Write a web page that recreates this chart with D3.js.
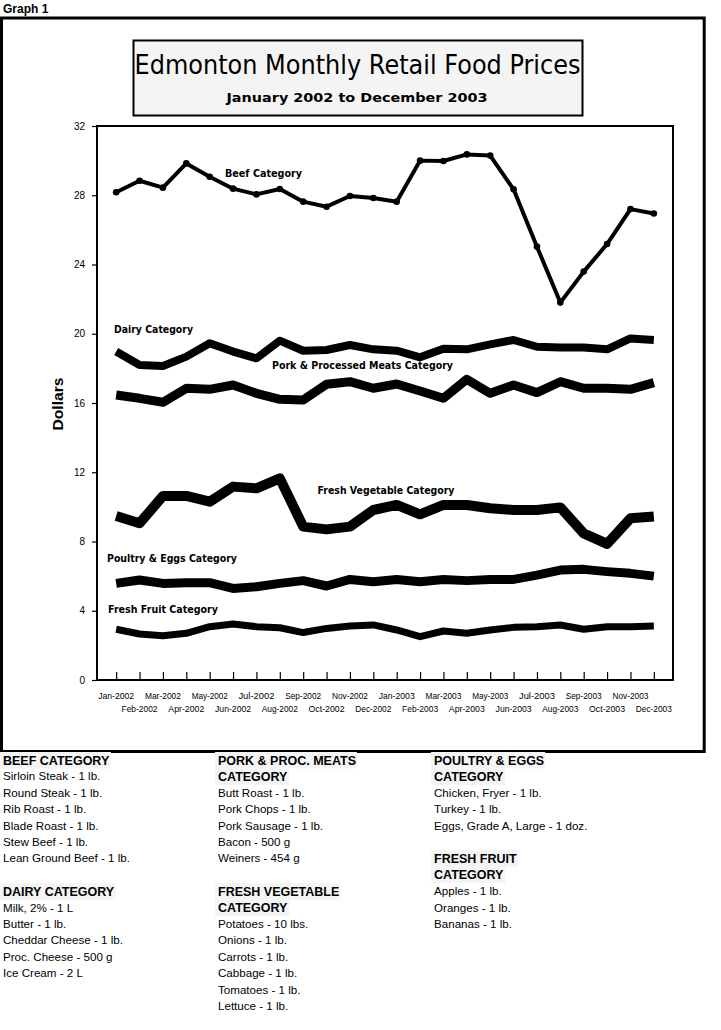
<!DOCTYPE html>
<html><head><meta charset="utf-8">
<script src="https://cdn.jsdelivr.net/npm/d3@7"></script>
<style>body{margin:0;background:#fff}svg{display:block}</style>
</head><body>
<script>
const months = ["Jan-2002","Feb-2002","Mar-2002","Apr-2002","May-2002","Jun-2002","Jul-2002","Aug-2002","Sep-2002","Oct-2002","Nov-2002","Dec-2002",
"Jan-2003","Feb-2003","Mar-2003","Apr-2003","May-2003","Jun-2003","Jul-2003","Aug-2003","Sep-2003","Oct-2003","Nov-2003","Dec-2003"];
const beef = [28.17,28.84,28.44,29.84,29.07,28.38,28.05,28.36,27.63,27.34,27.96,27.84,27.63,30.0,29.98,30.36,30.29,28.34,25.03,21.8,23.59,25.18,27.2,26.95];
const dairy = [18.97,18.2,18.14,18.68,19.45,18.97,18.58,19.6,19.02,19.06,19.35,19.1,19.02,18.64,19.14,19.1,19.39,19.64,19.25,19.2,19.2,19.1,19.73,19.64];
const pork = [16.46,16.27,16.04,16.85,16.79,17.04,16.56,16.21,16.17,17.08,17.23,16.85,17.1,16.69,16.27,17.37,16.56,17.04,16.6,17.23,16.85,16.85,16.79,17.18];
const vegetable = [9.47,9.05,10.63,10.63,10.3,11.17,11.07,11.65,8.86,8.7,8.86,9.82,10.11,9.57,10.11,10.11,9.92,9.82,9.82,9.97,8.47,7.86,9.34,9.44];
const poultry = [5.58,5.78,5.58,5.62,5.62,5.29,5.39,5.58,5.74,5.43,5.81,5.68,5.81,5.68,5.81,5.74,5.81,5.81,6.06,6.35,6.39,6.26,6.16,6.0];
const fruit = [2.93,2.66,2.56,2.7,3.08,3.23,3.08,3.02,2.74,2.98,3.12,3.18,2.89,2.5,2.83,2.7,2.89,3.04,3.08,3.18,2.93,3.08,3.08,3.12];
const yTicks = [0,4,8,12,16,20,24,28,32];
const seriesNames = ["Beef Category","Dairy Category","Pork & Processed Meats Category","Fresh Vegetable Category","Poultry & Eggs Category","Fresh Fruit Category"];
const titleText = "Edmonton Monthly Retail Food Prices";
const subtitleText = "January 2002 to December 2003";

const legendCol1 = [
  {head:["BEEF CATEGORY"], items:["Sirloin Steak - 1 lb.","Round Steak - 1 lb.","Rib Roast - 1 lb.","Blade Roast - 1 lb.","Stew Beef - 1 lb.","Lean Ground Beef - 1 lb."]},
  {head:["DAIRY CATEGORY"], items:["Milk, 2% - 1 L","Butter - 1 lb.","Cheddar Cheese - 1 lb.","Proc. Cheese - 500 g","Ice Cream - 2 L"]}
];
const legendCol2 = [
  {head:["PORK & PROC. MEATS","CATEGORY"], items:["Butt Roast - 1 lb.","Pork Chops - 1 lb.","Pork Sausage - 1 lb.","Bacon - 500 g","Weiners - 454 g"]},
  {head:["FRESH VEGETABLE","CATEGORY"], items:["Potatoes - 10 lbs.","Onions - 1 lb.","Carrots - 1 lb.","Cabbage - 1 lb.","Tomatoes - 1 lb.","Lettuce - 1 lb."]}
];
const legendCol3 = [
  {head:["POULTRY & EGGS","CATEGORY"], items:["Chicken, Fryer - 1 lb.","Turkey - 1 lb.","Eggs, Grade A, Large - 1 doz."]},
  {head:["FRESH FRUIT","CATEGORY"], items:["Apples - 1 lb.","Oranges - 1 lb.","Bananas - 1 lb."]}
];

(function(){
const W = 721, H = 1030;
const svg = d3.select("body").append("svg").attr("width", W).attr("height", H);
svg.append("rect").attr("width", W).attr("height", H).attr("fill", "#fff");

const SANS = "'Liberation Sans', Arial, sans-serif";
const NARROW = "'Liberation Sans Narrow', 'Liberation Sans', Arial, sans-serif";

svg.append("text").attr("x", 3).attr("y", 13).attr("font-family", SANS).attr("font-weight", "bold")
  .attr("font-size", 12).text("Graph 1");

svg.append("rect").attr("x", 1.5).attr("y", 18).attr("width", 702.7).attr("height", 733.5)
  .attr("fill", "none").attr("stroke", "#000").attr("stroke-width", 3);

svg.append("rect").attr("x", 133.5).attr("y", 40.5).attr("width", 449).attr("height", 75)
  .attr("fill", "#f4f4f4").attr("stroke", "#000").attr("stroke-width", 2);
svg.append("text").attr("x", 134.5).attr("y", 74).attr("font-family", "'DejaVu Sans', sans-serif")
  .attr("font-size", 26).attr("textLength", 446).attr("lengthAdjust", "spacingAndGlyphs").text(titleText);
svg.append("text").attr("x", 226.5).attr("y", 102).attr("font-family", "'DejaVu Sans', sans-serif")
  .attr("font-weight", "bold").attr("font-size", 13).attr("textLength", 261).attr("lengthAdjust", "spacingAndGlyphs").text(subtitleText);

const pLeft = 97, pRight = 673, pTop = 126, pBottom = 680;
const x = d3.scalePoint().domain(months).range([pLeft, pRight]).padding(0.82);
const y = d3.scaleLinear().domain([0, 32]).range([pBottom, pTop]);

svg.append("rect").attr("x", pLeft).attr("y", pTop).attr("width", pRight - pLeft).attr("height", pBottom - pTop)
  .attr("fill", "none").attr("stroke", "#000").attr("stroke-width", 2);

const yAxis = d3.axisLeft(y).tickValues(yTicks).tickSize(5).tickPadding(7).tickFormat(d3.format("d"));
const gy = svg.append("g").attr("transform", `translate(${pLeft},0)`).call(yAxis);
gy.select(".domain").remove();
gy.selectAll(".tick line").attr("stroke-width", 1.2);
gy.selectAll(".tick text").attr("font-family", NARROW).attr("font-size", 10).attr("fill", "#000");

const xAxis = d3.axisBottom(x).tickSize(-8).tickFormat("");
const gx = svg.append("g").attr("transform", `translate(0,${pBottom})`).call(xAxis);
gx.select(".domain").remove();
gx.selectAll(".tick line").attr("stroke-width", 1.2);
svg.append("g").selectAll("text").data(months).join("text")
  .attr("x", d => x(d)).attr("y", (d, i) => i % 2 === 0 ? 699 : 712)
  .attr("text-anchor", "middle").attr("font-family", SANS).attr("font-size", 8.5)
  .attr("textLength", 36).attr("lengthAdjust", "spacingAndGlyphs").text(d => d);

svg.append("text").attr("transform", "translate(63,404) rotate(-90)").attr("text-anchor", "middle")
  .attr("font-family", SANS).attr("font-weight", "bold").attr("font-size", 15)
  .attr("textLength", 53).attr("lengthAdjust", "spacingAndGlyphs").text("Dollars");

const line = d3.line().x((d, i) => x(months[i])).y(d => y(d));
const series = [
  {data: beef, w: 4},
  {data: dairy, w: 8},
  {data: pork, w: 9},
  {data: vegetable, w: 10},
  {data: poultry, w: 9},
  {data: fruit, w: 7}
];
svg.append("g").selectAll("path").data(series).join("path")
  .attr("d", d => line(d.data)).attr("fill", "none").attr("stroke", "#000")
  .attr("stroke-width", d => d.w).attr("stroke-linejoin", "round").attr("stroke-linecap", "butt");
svg.append("g").selectAll("circle").data(beef).join("circle")
  .attr("cx", (d, i) => x(months[i])).attr("cy", d => y(d)).attr("r", 3.3).attr("fill", "#000");

const labelPos = [
  {x: 225, y: 176.5, w: 77},
  {x: 114, y: 332.5, w: 79},
  {x: 272, y: 368.5, w: 181},
  {x: 317.5, y: 493.5, w: 137},
  {x: 107, y: 561.5, w: 130},
  {x: 108, y: 612.5, w: 110}
];
svg.append("g").selectAll("text").data(seriesNames).join("text")
  .attr("x", (d, i) => labelPos[i].x).attr("y", (d, i) => labelPos[i].y)
  .attr("font-family", "'DejaVu Sans', sans-serif").attr("font-weight", "bold").attr("font-size", 10)
  .attr("textLength", (d, i) => labelPos[i].w).attr("lengthAdjust", "spacingAndGlyphs").text(d => d);

function drawColumn(groups, x0, y0) {
  let yy = y0;
  const g = svg.append("g");
  groups.forEach(grp => {
    grp.head.forEach(h => {
      const t = g.append("text").attr("x", x0).attr("y", yy + 4.5).attr("font-family", SANS)
        .attr("font-weight", "bold").attr("font-size", 12.5).text(h);
      const bb = t.node().getBBox();
      g.insert("rect", "text").attr("x", x0 - 3).attr("y", yy - 8).attr("width", bb.width + 4).attr("height", 16.5)
        .attr("fill", "#f4f4f4");
      yy += 16.4;
    });
    grp.items.forEach(it => {
      g.append("text").attr("x", x0).attr("y", yy + 4).attr("font-family", SANS)
        .attr("font-size", 11.6).text(it);
      yy += 16.4;
    });
    yy += 16.4;
  });
}
drawColumn(legendCol1, 3, 760);
drawColumn(legendCol2, 218, 760);
drawColumn(legendCol3, 434, 760);
})();
</script>
</body></html>
